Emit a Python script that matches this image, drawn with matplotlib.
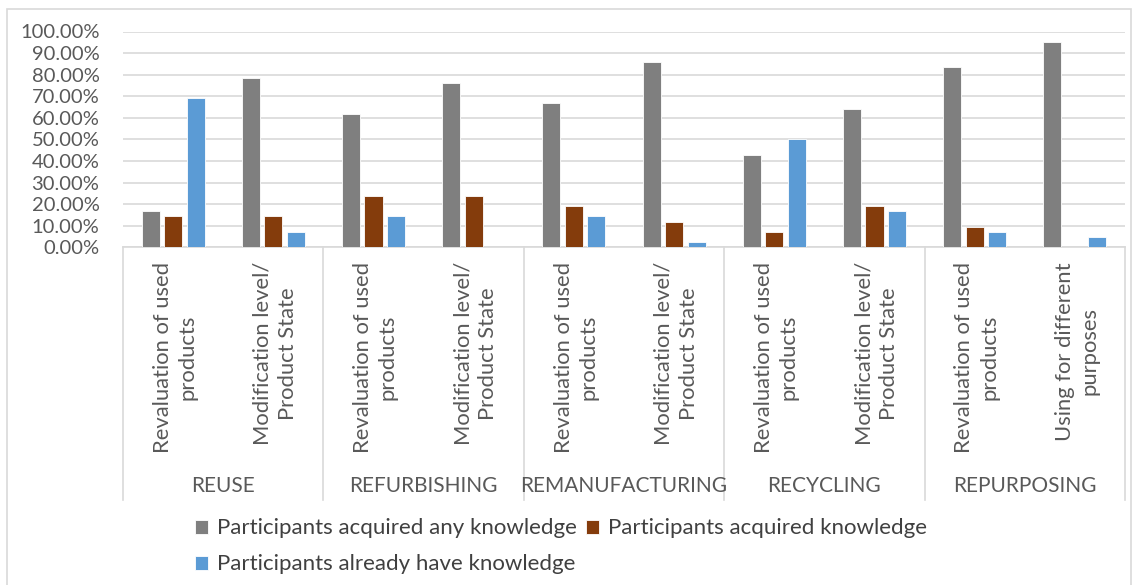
import matplotlib.pyplot as plt
import numpy as np
from matplotlib.patches import Rectangle
from matplotlib.transforms import blended_transform_factory

# Dados (fração de participantes)
grupos = ['REUSE', 'REFURBISHING', 'REMANUFACTURING', 'RECYCLING', 'REPURPOSING']
subcategorias = ['Revaluation of used\nproducts', 'Modification level/\nProduct State',
                 'Revaluation of used\nproducts', 'Modification level/\nProduct State',
                 'Revaluation of used\nproducts', 'Modification level/\nProduct State',
                 'Revaluation of used\nproducts', 'Modification level/\nProduct State',
                 'Revaluation of used\nproducts', 'Using for different\npurposes']
any_knowledge = [0.1667, 0.7857, 0.6190, 0.7619, 0.6667, 0.8571, 0.4286, 0.6429, 0.8333, 0.9524]
acquired_knowledge = [0.1429, 0.1429, 0.2381, 0.2381, 0.1905, 0.1190, 0.0714, 0.1905, 0.0952, 0.0]
already_knowledge = [0.6905, 0.0714, 0.1429, 0.0, 0.1429, 0.0238, 0.5000, 0.1667, 0.0714, 0.0476]

series = [('Participants acquired any knowledge', any_knowledge, '#7f7f7f'),
          ('Participants acquired knowledge', acquired_knowledge, '#843c0c'),
          ('Participants already have knowledge', already_knowledge, '#5b9bd5')]

plt.rcParams['font.family'] = ['Lato', 'DejaVu Sans']
cor_texto = '#595959'
cor_grade = '#d9d9d9'

W, H = 1134, 585
fig = plt.figure(figsize=(W / 100, H / 100), dpi=100)

# eixos em pixels: esquerda 123, direita 1125, 0% em 247, 100% em 31.5
y0, y100 = 247.3, 31.5
ax = fig.add_axes([123 / W, 1 - y0 / H, 1002 / W, (y0 - y100) / H])

x = np.arange(len(subcategorias))
largura = 0.18
deslocamentos = [-0.225, 0.0, 0.225]
for (nome, valores, cor), d in zip(series, deslocamentos):
    ax.bar(x + d, valores, largura, color=cor, edgecolor='white', linewidth=0.6,
           label=nome, zorder=3)

ax.set_xlim(-0.5, len(subcategorias) - 0.5)
ax.set_ylim(0, 1.0)
ax.set_yticks(np.arange(0, 1.01, 0.1))
ax.set_yticklabels([f'{v * 100:.2f}%' for v in np.arange(0, 1.01, 0.1)])
ax.tick_params(axis='y', length=0, pad=17, labelsize=14.5, labelcolor=cor_texto)
ax.set_xticks([])
ax.grid(axis='y', color=cor_grade, linewidth=1.2, zorder=0)
for s in ['top', 'right', 'left']:
    ax.spines[s].set_visible(False)
ax.spines['bottom'].set_color(cor_grade)
ax.spines['bottom'].set_linewidth(1.2)

# Eixo de categorias em dois níveis
trans = blended_transform_factory(ax.transData, fig.transFigure)
for xs in np.arange(-0.5, len(subcategorias), 2):
    ax.plot([xs, xs], [1 - y0 / H, 1 - 500 / H], transform=trans, color=cor_grade,
            linewidth=1.2, clip_on=False)

for i, rotulo in enumerate(subcategorias):
    ax.text(i + 0.02, 1 - 262 / H, rotulo, transform=trans, rotation=90, ha='center', va='top',
            multialignment='center', fontsize=15.8, color=cor_texto, linespacing=1.3)

for g, nome in enumerate(grupos):
    ax.text(2 * g + 0.5, 1 - 486 / H, nome, transform=trans, ha='center', va='center',
            fontsize=15, color=cor_texto)

# Legenda em duas colunas
handles, labels = ax.get_legend_handles_labels()
ordem = [0, 2, 1]
fig.legend([handles[i] for i in ordem], [labels[i] for i in ordem], ncol=2,
           loc='center', bbox_to_anchor=(561 / W, 1 - 546.5 / H), frameon=False,
           fontsize=16, labelcolor='#404040', handlelength=0.6, handleheight=0.6,
           handletextpad=0.4, columnspacing=0.4, labelspacing=0.72, borderpad=0)

# Moldura do gráfico
fig.patches.append(Rectangle((7 / W, -0.02), 1124 / W, 1.02 - 9 / H, transform=fig.transFigure,
                             fill=False, edgecolor=cor_grade, linewidth=1.2))

fig.savefig('out.png', dpi=100)
